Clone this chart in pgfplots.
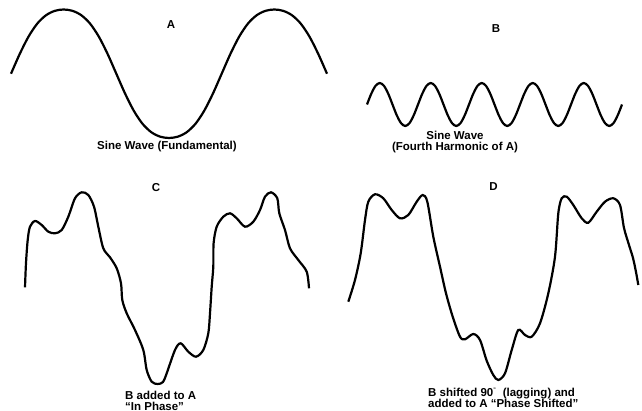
\documentclass[border=0pt]{standalone}
\usepackage{fontspec}
\setmainfont{Liberation Sans}
\usepackage{pgfplots}
\pgfplotsset{compat=1.18}
\begin{document}
\begin{tikzpicture}
\begin{axis}[scale only axis, width=642pt, height=411pt,
  xmin=0, xmax=642, ymin=0, ymax=411, y dir=reverse,
  hide axis, clip=false]
% A: fundamental
\addplot[black, line width=2.2pt, smooth] coordinates {
(11.00,73.75) (19.78,53.85) (28.56,36.56) (37.33,23.53) (46.11,15.18) (54.89,10.82)
(63.67,9.5) (72.44,10.82) (81.22,15.18) (90.00,23.53) (98.78,36.56) (107.56,53.85)
(116.33,73.75) (125.11,93.65) (133.89,110.94) (142.67,123.97) (151.44,132.32) (160.22,136.68)
(169.00,138.0) (177.78,136.68) (186.56,132.32) (195.33,123.97) (204.11,110.94) (212.89,93.65)
(221.67,73.75) (230.44,53.85) (239.22,36.56) (248.00,23.53) (256.78,15.18) (265.56,10.82)
(274.33,9.5) (283.11,10.82) (291.89,15.18) (300.67,23.53) (309.44,36.56) (318.22,53.85)
(327.00,73.75)};
% B: fourth harmonic
\addplot[black, line width=2.2pt, smooth] coordinates {
(367.00,104.5) (371.25,93.75) (375.50,85.88) (379.75,83.0) (384.00,85.88) (388.25,93.75)
(392.50,104.5) (396.75,115.25) (401.00,123.12) (405.25,126.0) (409.50,123.12) (413.75,115.25)
(418.00,104.5) (422.25,93.75) (426.50,85.88) (430.75,83.0) (435.00,85.88) (439.25,93.75)
(443.50,104.5) (447.75,115.25) (452.00,123.12) (456.25,126.0) (460.50,123.12) (464.75,115.25)
(469.00,104.5) (473.25,93.75) (477.50,85.88) (481.75,83.0) (486.00,85.88) (490.25,93.75)
(494.50,104.5) (498.75,115.25) (503.00,123.12) (507.25,126.0) (511.50,123.12) (515.75,115.25)
(520.00,104.5) (524.25,93.75) (528.50,85.88) (532.75,83.0) (537.00,85.88) (541.25,93.75)
(545.50,104.5) (549.75,115.25) (554.00,123.12) (558.25,126.0) (562.50,123.12) (566.75,115.25)
(571.00,104.5) (575.25,93.75) (579.50,85.88) (583.75,83.0) (588.00,85.88) (592.25,93.75)
(596.50,104.5) (600.75,115.25) (605.00,123.12) (609.25,126.0) (613.50,123.12) (617.75,115.25)
(622.00,104.5)};
% C: in phase sum
\addplot[black, line width=2.2pt, smooth] coordinates {
(25,287.3) (26,263) (27.7,240) (30,226.7) (35,221) (41.7,225) (48.3,231.7) (55,233.3)
(61.7,230) (68.3,216.7) (75,198.3) (81.7,192.3) (88.3,195) (94,206.7) (98.3,226.7)
(103.3,248.3) (110,257.3) (116.7,268.3) (121,283.3) (122.3,300) (126.7,313.3) (135,330)
(143.3,350) (146.7,370) (151.7,381.7) (157.7,384) (163,382) (166.7,373.3) (175,350)
(180.7,343.3) (188.3,351.7) (196,356.7) (203.3,350) (208.3,333.3) (210,313.3) (211.7,286.7)
(213.3,266.7) (213.6,243.3) (216.7,226.7) (223.3,216.7) (230,213.3) (236.7,218.3) (245,226.7)
(253.3,221.7) (260,210) (265,196.7) (271,192.3) (277.3,198.3) (279.3,213.3) (285,230)
(290,248.3) (298.3,260) (306.7,271.7) (309,288.3)};
% D: phase shifted sum
\addplot[black, line width=2.2pt, smooth] coordinates {
(348.3,301.7) (355,280) (360.7,253.3) (365,220) (368.3,201.7) (375,194.3) (383.3,198.3)
(391.7,210) (400,218.3) (408.3,215) (416.7,201.7) (422.7,195) (427.3,201.7) (433.3,236.7)
(440,266.7) (446,293.3) (452.7,316.7) (460,336.7) (465,339.3) (473.3,334) (480,340)
(486.7,360.7) (493.3,375) (498.3,380) (505,373.3) (511.7,350) (518.3,330) (525,335)
(531.7,336.7) (540,323.3) (548.3,293.3) (555,256.7) (558.3,213.3) (561.7,198.3) (566.7,196.7)
(573.3,205) (581.7,218.3) (588.3,222.7) (596.7,211.7) (605,201.7) (613.3,198.3) (620,205)
(624,228) (629,245) (633,258) (636,272) (638.3,285)};
\path (axis cs:0,0) rectangle (axis cs:642,411);
\begin{scope}[every node/.style={font=\bfseries\fontsize{11.5}{12}\selectfont, inner sep=0pt}]
\node[anchor=base] at (axis cs:171,29) {A};
\node[anchor=base] at (axis cs:167,150) {Sine Wave (Fundamental)};
\node[anchor=base] at (axis cs:496,33) {B};
\node[anchor=base] at (axis cs:455,140) {Sine Wave};
\node[anchor=base] at (axis cs:455,151) {(Fourth Harmonic of A)};
\node[anchor=base] at (axis cs:156,192) {C};
\node[anchor=base west] at (axis cs:125,399) {B added to A};
\node[anchor=base west] at (axis cs:125,410) {``In Phase''};
\node[anchor=base] at (axis cs:493.5,191) {D};
\node[anchor=base west] at (axis cs:428,396) {B shifted 90\textsuperscript{\tiny''}\ \ (lagging) and};
\node[anchor=base west] at (axis cs:428,407) {added to A ``Phase Shifted''};
\end{scope}
\end{axis}
\end{tikzpicture}
\end{document}
